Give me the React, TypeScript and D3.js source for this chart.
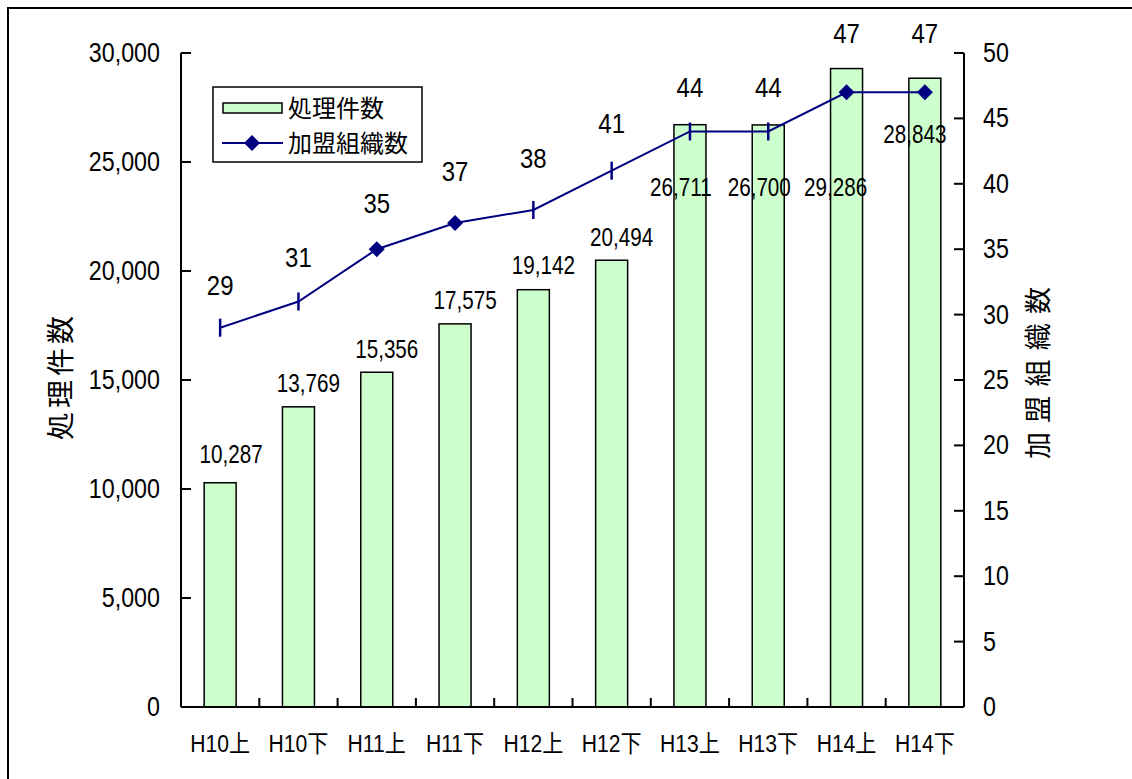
import React from "react";
import * as d3 from "d3";

// Half-year periods
const periods = ["H10上", "H10下", "H11上", "H11下", "H12上", "H12下", "H13上", "H13下", "H14上", "H14下"];
// Cases handled (left axis, bars)
const casesHandled = [10287, 13769, 15356, 17575, 19142, 20494, 26711, 26700, 29286, 28843];
// Member organisations (right axis, line)
const memberOrgs = [29, 31, 35, 37, 38, 41, 44, 44, 47, 47];
// Axis ticks
const leftTicks = [0, 5000, 10000, 15000, 20000, 25000, 30000];
const rightTicks = [0, 5, 10, 15, 20, 25, 30, 35, 40, 45, 50];
// Marker style per point of the line
const markerKinds = ["bar", "bar", "diamond", "diamond", "bar", "bar", "bar", "bar", "diamond", "diamond"];

// Label placement (pixel nudges relative to the mark)
const barLabelDx = [11, 10, 10, 10, 10, 10, -9, -9, -11, -10];
const barLabelDy = [-20, -15, -14, -15, -16, -14, 71, 71, 127, 65];
const lineLabelDy = [-33, -35, -36, -42, -42, -38, -34, -34, -49, -49];

const W = 1132;
const H = 779;
const FONT = "Arial, 'Liberation Sans', 'Noto Sans CJK JP', sans-serif";
const NAVY = "#000080";
const BAR_FILL = "#CCFFCC";

type TProps = {
  x: number;
  y: number;
  size: number;
  sx?: number;
  sy?: number;
  anchor?: "start" | "middle" | "end";
  dy?: string;
  children: React.ReactNode;
};

// Text drawn with a slightly tall, narrow glyph shape
function T({ x, y, size, sx = 0.96, sy = 1.12, anchor = "start", dy, children }: TProps) {
  return (
    <text
      transform={`translate(${x},${y}) scale(${sx},${sy})`}
      fontSize={size}
      textAnchor={anchor}
      dy={dy}
    >
      {children}
    </text>
  );
}

export default function App() {
  const left = 181;
  const right = 964;
  const top = 53;
  const bottom = 707;

  const x = d3.scaleBand<string>().domain(periods).range([left, right]).paddingInner(0).paddingOuter(0);
  const yL = d3.scaleLinear().domain([0, 30000]).range([bottom, top]);
  const yR = d3.scaleLinear().domain([0, 50]).range([bottom, top]);
  const fmt = d3.format(",");
  const barW = 32;
  const cx = (p: string) => (x(p) as number) + x.bandwidth() / 2;

  const linePath = d3
    .line<number>()
    .x((_, i) => cx(periods[i]))
    .y((d) => yR(d))(memberOrgs);

  const diamond = (px: number, py: number, r: number) =>
    `M${px},${py - r}L${px + r},${py}L${px},${py + r}L${px - r},${py}Z`;

  return (
    <svg
      width={W}
      height={H}
      style={{ position: "absolute", left: 0, top: 0, background: "#fff" }}
      fontFamily={FONT}
    >
      <rect x={0} y={0} width={W} height={H} fill="#fff" />
      {/* outer chart frame */}
      <rect x={8} y={8} width={W + 20} height={H + 20} fill="none" stroke="#000" strokeWidth={2} />

      {/* bars */}
      {casesHandled.map((v, i) => (
        <rect
          key={"b" + i}
          x={cx(periods[i]) - barW / 2}
          y={yL(v)}
          width={barW}
          height={bottom - yL(v)}
          fill={BAR_FILL}
          stroke="#000"
          strokeWidth={1.5}
        />
      ))}

      {/* axes */}
      <line x1={left} x2={left} y1={top} y2={bottom} stroke="#000" strokeWidth={2} />
      <line x1={right} x2={right} y1={top} y2={bottom} stroke="#000" strokeWidth={2} />
      <line x1={left} x2={right} y1={bottom} y2={bottom} stroke="#000" strokeWidth={2} />

      {leftTicks.map((t) => (
        <g key={"lt" + t}>
          <line x1={left} x2={left + 10} y1={yL(t)} y2={yL(t)} stroke="#000" strokeWidth={2} />
          <T x={left - 21} y={yL(t) + 9} size={24} sx={0.97} anchor="end">
            {fmt(t)}
          </T>
        </g>
      ))}
      {rightTicks.map((t) => (
        <g key={"rt" + t}>
          <line x1={right - 10} x2={right} y1={yR(t)} y2={yR(t)} stroke="#000" strokeWidth={2} />
          <T x={right + 19} y={yR(t) + 9} size={24} sx={0.97} anchor="start">
            {t}
          </T>
        </g>
      ))}
      {periods.map((p, i) =>
        i === 0 ? null : (
          <line
            key={"xt" + p}
            x1={x(p) as number}
            x2={x(p) as number}
            y1={bottom}
            y2={bottom - 9}
            stroke="#000"
            strokeWidth={2}
          />
        )
      )}
      {periods.map((p) => (
        <T key={"xl" + p} x={cx(p)} y={752} size={22} sx={0.96} sy={1.1} anchor="middle">
          {p}
        </T>
      ))}

      {/* line series */}
      <path d={linePath ?? ""} fill="none" stroke={NAVY} strokeWidth={2} />
      {memberOrgs.map((v, i) => {
        const px = cx(periods[i]);
        const py = yR(v);
        return markerKinds[i] === "diamond" ? (
          <path key={"m" + i} d={diamond(px, py, 8)} fill={NAVY} />
        ) : (
          <line key={"m" + i} x1={px} x2={px} y1={py - 9} y2={py + 9} stroke={NAVY} strokeWidth={2.5} />
        );
      })}

      {/* data labels */}
      {casesHandled.map((v, i) => (
        <T
          key={"bl" + i}
          x={cx(periods[i]) + barLabelDx[i]}
          y={yL(v) + barLabelDy[i]}
          size={22}
          sx={0.94}
          sy={1.15}
          anchor="middle"
        >
          {fmt(v)}
        </T>
      ))}
      {memberOrgs.map((v, i) => (
        <T key={"ll" + i} x={cx(periods[i])} y={yR(v) + lineLabelDy[i]} size={24} sx={1} sy={1.12} anchor="middle">
          {v}
        </T>
      ))}

      {/* axis titles */}
      <text transform={`translate(71,378) rotate(-90)`} textAnchor="middle" fontSize={28} textLength={124}>
        処理件数
      </text>
      <text transform={`translate(1048,373) rotate(-90)`} textAnchor="middle" fontSize={27} textLength={172}>
        加盟組織数
      </text>

      {/* legend */}
      <rect x={213} y={87} width={209} height={75} fill="#fff" stroke="#000" strokeWidth={1.5} />
      <rect x={223} y={103} width={59} height={10} fill={BAR_FILL} stroke="#000" strokeWidth={1.5} />
      <text x={288} y={117} fontSize={24}>
        処理件数
      </text>
      <line x1={222} x2={283} y1={143} y2={143} stroke={NAVY} strokeWidth={2} />
      <path d={diamond(252, 143, 8)} fill={NAVY} />
      <text x={288} y={152} fontSize={24}>
        加盟組織数
      </text>
    </svg>
  );
}
